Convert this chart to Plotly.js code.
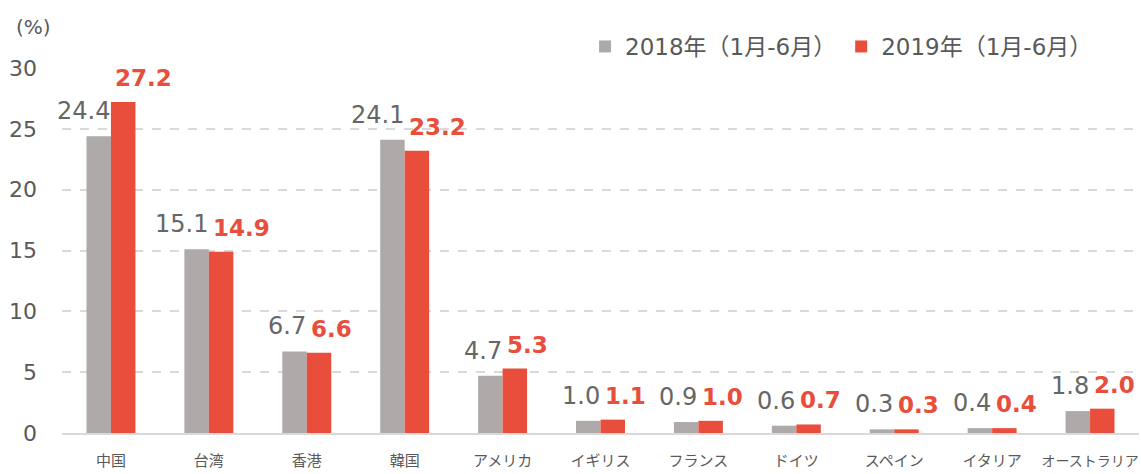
<!DOCTYPE html>
<html><head><meta charset="utf-8">
<script src="https://cdn.plot.ly/plotly-3.0.1.min.js"></script>
<style>html,body{margin:0;padding:0;background:#fff}#chart{width:1141px;height:474px}</style>
</head><body><div id="chart"></div>
<script>
var categories = ["中国","台湾","香港","韓国","アメリカ","イギリス","フランス","ドイツ","スペイン","イタリア","オーストラリア"];
var values2018 = [24.4,15.1,6.7,24.1,4.7,1.0,0.9,0.6,0.3,0.4,1.8];
var values2019 = [27.2,14.9,6.6,23.2,5.3,1.1,1.0,0.7,0.3,0.4,2.0];
var seriesNames = ["2018年（1月-6月）","2019年（1月-6月）"];
var yTicks = [0,5,10,15,20,25,30];

var FONT = "DejaVu Sans, Verdana, Noto Sans CJK JP, sans-serif";
var GRAY = "#AEAAAA", RED = "#E84E3B", TXT = "#595959";

var traces = [
  {type:"bar", name:seriesNames[0], x:categories, y:values2018, marker:{color:GRAY}, hoverinfo:"none"},
  {type:"bar", name:seriesNames[1], x:categories, y:values2019, marker:{color:RED}, hoverinfo:"none"}
];

var annotations = [];
categories.forEach(function(c,i){
  annotations.push({x:c, y:values2018[i], xref:"x", yref:"y", text:values2018[i].toFixed(1),
    showarrow:false, xanchor:"right", yanchor:"bottom", xshift:1, yshift:9,
    font:{family:FONT, size:24, color:"#666666"}});
  annotations.push({x:c, y:values2019[i], xref:"x", yref:"y", text:"<b>"+values2019[i].toFixed(1)+"</b>",
    showarrow:false, xanchor:"left", yanchor:"bottom", xshift:2, yshift:9,
    font:{family:FONT, size:23, color:RED}});
});
annotations.push({xref:"paper", yref:"paper", x:-0.045, y:1, yshift:41, xanchor:"left", yanchor:"middle",
  text:"(%)", showarrow:false, font:{family:FONT, size:20, color:TXT}});

var tickText = categories.map(function(c){ return c.length > 5 ? '<span style="font-size:14px">'+c+'</span>' : c; });

var layout = {
  width:1141, height:474,
  margin:{l:62, r:2, t:68, b:41},
  paper_bgcolor:"#fff", plot_bgcolor:"#fff",
  barmode:"group", bargap:0.5, bargroupgap:0,
  font:{family:FONT, color:TXT},
  showlegend:true,
  legend:{orientation:"h", x:0.962, xanchor:"right", y:1, yanchor:"bottom", yref:"paper",
    font:{family:FONT, size:23, color:TXT}, itemwidth:30, traceorder:"normal", bgcolor:"rgba(0,0,0,0)"},
  xaxis:{type:"category", range:[-0.5, categories.length-0.5], automargin:false, tickvals:categories, ticktext:tickText,
    tickfont:{family:FONT, size:15, color:TXT}, showgrid:false,
    showline:true, linecolor:"#D9D9D9", linewidth:2, ticks:"", ticklabelstandoff:13, fixedrange:true},
  yaxis:{range:[0,30], automargin:false, tickvals:yTicks, ticktext:yTicks.map(String), tickfont:{family:FONT, size:22, color:TXT},
    showgrid:true, gridcolor:"#D9D9D9", griddash:"dash", gridwidth:2, zeroline:false, showline:false,
    ticks:"", ticklabelstandoff:24, fixedrange:true},
  annotations:annotations
};
Plotly.newPlot("chart", traces, layout, {displayModeBar:false, staticPlot:true});
</script></body></html>
